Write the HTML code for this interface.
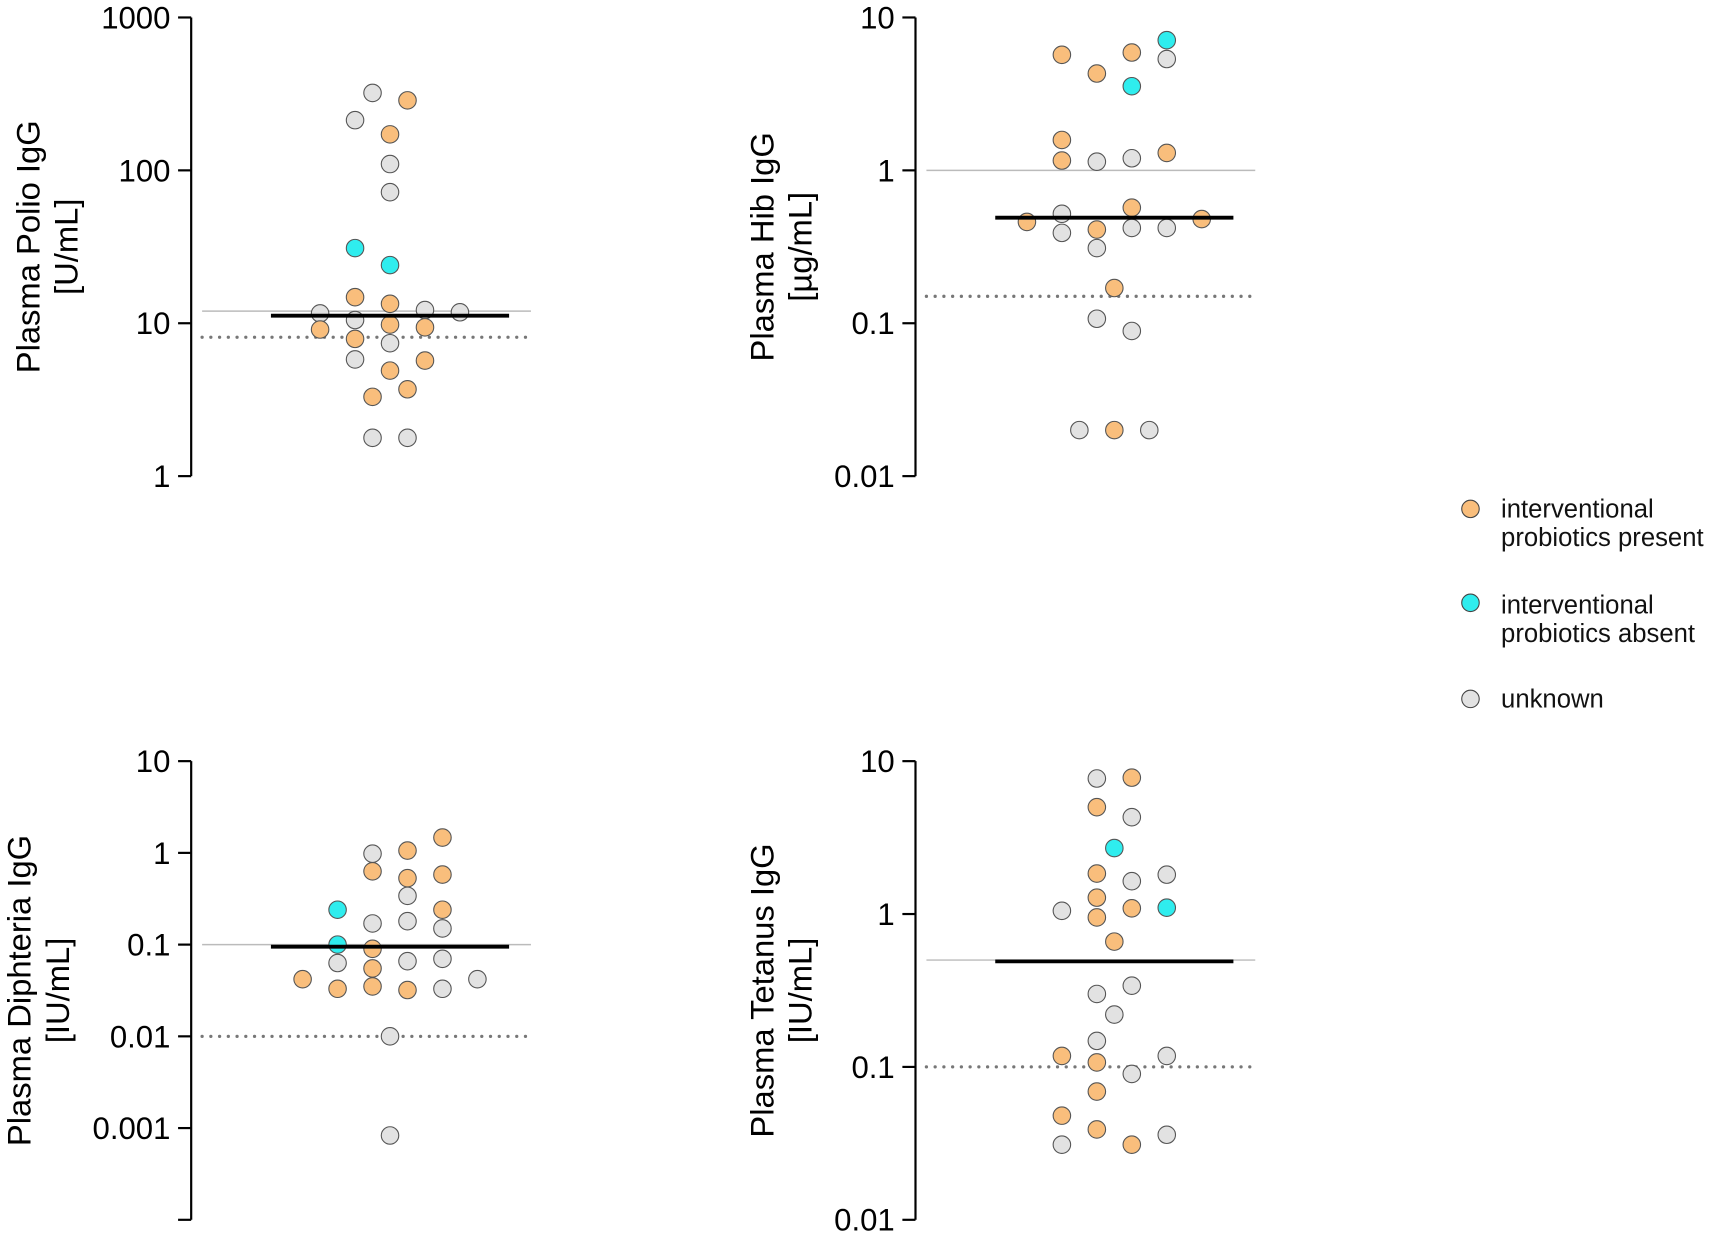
<!DOCTYPE html>
<html><head><meta charset="utf-8"><style>
html,body{margin:0;padding:0;background:#fff;}
svg{display:block;font-family:"Liberation Sans",Arial,sans-serif;}
</style></head><body>
<svg id="chart" width="1713" height="1234" viewBox="0 0 1568 1130" preserveAspectRatio="none" xmlns="http://www.w3.org/2000/svg">
<g id="legend" font-size="23.5" fill="#111">
<g><circle cx="1346" cy="466" r="8" fill="#F9BE7C" stroke="#444"/><text x="1374" y="474">interventional</text><text x="1374" y="500">probiotics present</text></g>
<g><circle cx="1346" cy="552" r="8" fill="#2FEDEE" stroke="#444"/><text x="1374" y="562">interventional</text><text x="1374" y="588">probiotics absent</text></g>
<g><circle cx="1346" cy="640" r="8" fill="#E2E2E2" stroke="#444"/><text x="1374" y="648">unknown</text></g>
</g>
</svg>
<script>
// group: 0 = present (orange), 1 = absent (cyan), 2 = unknown (gray)
const polioVals=[321,287,213,172,110,72,31,24,14.8,13.4,11.6,12.2,11.8,10.5,9.8,9.4,9.1,7.9,7.4,5.8,5.7,4.9,3.7,3.3,1.78,1.78];
const polioGroup=[2,0,2,0,2,2,1,1,0,0,2,2,2,2,0,0,0,0,2,2,0,0,0,0,2,2];
const polioSlot=[-1,1,-2,0,0,0,-2,0,-2,0,-4,2,4,-2,0,2,-4,-2,0,-2,2,0,1,-1,-1,1];
const polioStats=[11.2,12,8.1]; // median, reference line, dotted threshold
const hibVals=[5.7,5.9,7.1,5.35,4.3,3.55,1.58,1.16,1.14,1.2,1.3,0.52,0.57,0.46,0.48,0.39,0.41,0.42,0.42,0.31,0.17,0.107,0.089,0.02,0.02,0.02];
const hibGroup=[0,0,1,2,0,1,0,0,2,2,0,2,0,0,0,2,0,2,2,2,0,2,2,2,0,2];
const hibSlot=[-3,1,3,3,-1,1,-3,-3,-1,1,3,-3,1,-5,5,-3,-1,1,3,-1,0,-1,1,-2,0,2];
const hibStats=[0.49,1,0.15];
const diphVals=[1.47,0.98,1.06,0.63,0.53,0.58,0.34,0.24,0.24,0.17,0.18,0.15,0.1,0.09,0.063,0.066,0.07,0.055,0.042,0.042,0.033,0.035,0.032,0.033,0.01,0.00083];
const diphGroup=[0,2,0,0,0,0,2,1,0,2,2,2,1,0,2,2,2,0,0,2,0,0,0,2,2,2];
const diphSlot=[3,-1,1,-1,1,3,1,-3,3,-1,1,3,-3,-1,-3,1,3,-1,-5,5,-3,-1,1,3,0,0];
const diphStats=[0.095,0.1,0.01];
const tetVals=[7.7,7.8,5.0,4.3,2.7,1.84,1.64,1.81,1.28,1.05,1.09,1.1,0.95,0.66,0.34,0.30,0.22,0.148,0.118,0.118,0.107,0.09,0.069,0.048,0.039,0.036,0.031,0.031];
const tetGroup=[2,0,0,2,1,0,2,2,0,2,0,1,0,0,2,2,2,2,0,2,0,2,0,0,0,2,2,0];
const tetSlot=[-1,1,-1,1,0,-1,1,3,-1,-3,1,3,-1,0,1,-1,0,-1,-3,3,-1,1,-1,-3,-1,3,-3,1];
const tetStats=[0.49,0.5,0.1];

const NS="http://www.w3.org/2000/svg";
const svg=document.getElementById('chart');
const colors=['#F9BE7C','#2FEDEE','#E2E2E2'];
function mk(tag,attrs,parent){const e=document.createElementNS(NS,tag);for(const k in attrs)e.setAttribute(k,attrs[k]);parent.appendChild(e);return e;}

function panel(cfg){
  const g=mk('g',{},svg);
  
  
  const y=v=>cfg.yTop+(cfg.logMax-Math.log10(v))*cfg.dec;
  const x=s=>cfg.cx+s*16;
  const yBot=cfg.yTop+(cfg.logMax-cfg.logMin)*cfg.dec;
  const ax=mk('line',{x1:cfg.ax,x2:cfg.ax,y1:cfg.yTop,y2:yBot,stroke:'#000','stroke-width':2},g);
  
  
  for(let p=cfg.logMin;p<=cfg.logMax;p++){
    const v=Math.pow(10,p);
    const yy=y(v);
    const t=mk('line',{x1:cfg.ax-12,x2:cfg.ax,y1:yy,y2:yy,stroke:'#000','stroke-width':2},g);
    
    
    if(cfg.hideLabel && p===cfg.logMin) continue;
    const lab=mk('text',{x:cfg.ax-19,y:yy+10,'text-anchor':'end','font-size':28.5,fill:'#000'},g);
    lab.textContent=p>=0?String(v):v.toFixed(-p);
    
    
  }
  const tt=mk('text',{transform:`translate(${cfg.titleX},${(cfg.yTop+yBot)/2}) rotate(-90)`,'text-anchor':'middle','font-size':30,fill:'#000'},g);
  
  
  const t1=mk('tspan',{x:0,dy:-8},tt);t1.textContent=cfg.title;
  const t2=mk('tspan',{x:0,dy:35},tt);t2.textContent=cfg.unit;
  const ref=mk('line',{x1:cfg.ax+10,x2:cfg.ax+311,y1:y(cfg.stats[1]),y2:y(cfg.stats[1]),stroke:'#bbb','stroke-width':1.3},g);
  
  
  const dot=mk('line',{x1:cfg.ax+10,x2:cfg.ax+311,y1:y(cfg.stats[2]),y2:y(cfg.stats[2]),stroke:'#777','stroke-width':3,'stroke-dasharray':'0 8','stroke-linecap':'round'},g);
  
  
  cfg.vals.forEach((v,i)=>{
    const c=mk('circle',{cx:x(cfg.slot[i]),cy:y(v),r:8,fill:colors[cfg.group[i]],stroke:'#555','stroke-width':1},g);
    
    
  });
  const med=mk('line',{x1:cfg.cx-109,x2:cfg.cx+109,y1:y(cfg.stats[0]),y2:y(cfg.stats[0]),stroke:'#000','stroke-width':3.5},g);
  
  
}
panel({name:'polio-panel',ax:175,cx:357,yTop:16,dec:140,logMax:3,logMin:0,titleX:44,title:'Plasma Polio IgG',unit:'[U/mL]',vals:polioVals,group:polioGroup,slot:polioSlot,stats:polioStats});
panel({name:'hib-panel',ax:838,cx:1020,yTop:16,dec:140,logMax:1,logMin:-2,titleX:716,title:'Plasma Hib IgG',unit:'[µg/mL]',vals:hibVals,group:hibGroup,slot:hibSlot,stats:hibStats});
panel({name:'diphtheria-panel',ax:175,cx:357,yTop:697,dec:84,logMax:1,logMin:-4,hideLabel:true,titleX:36,title:'Plasma Diphteria IgG',unit:'[IU/mL]',vals:diphVals,group:diphGroup,slot:diphSlot,stats:diphStats});
panel({name:'tetanus-panel',ax:838,cx:1020,yTop:697,dec:140,logMax:1,logMin:-2,titleX:716,title:'Plasma Tetanus IgG',unit:'[IU/mL]',vals:tetVals,group:tetGroup,slot:tetSlot,stats:tetStats});
</script>
</body></html>
